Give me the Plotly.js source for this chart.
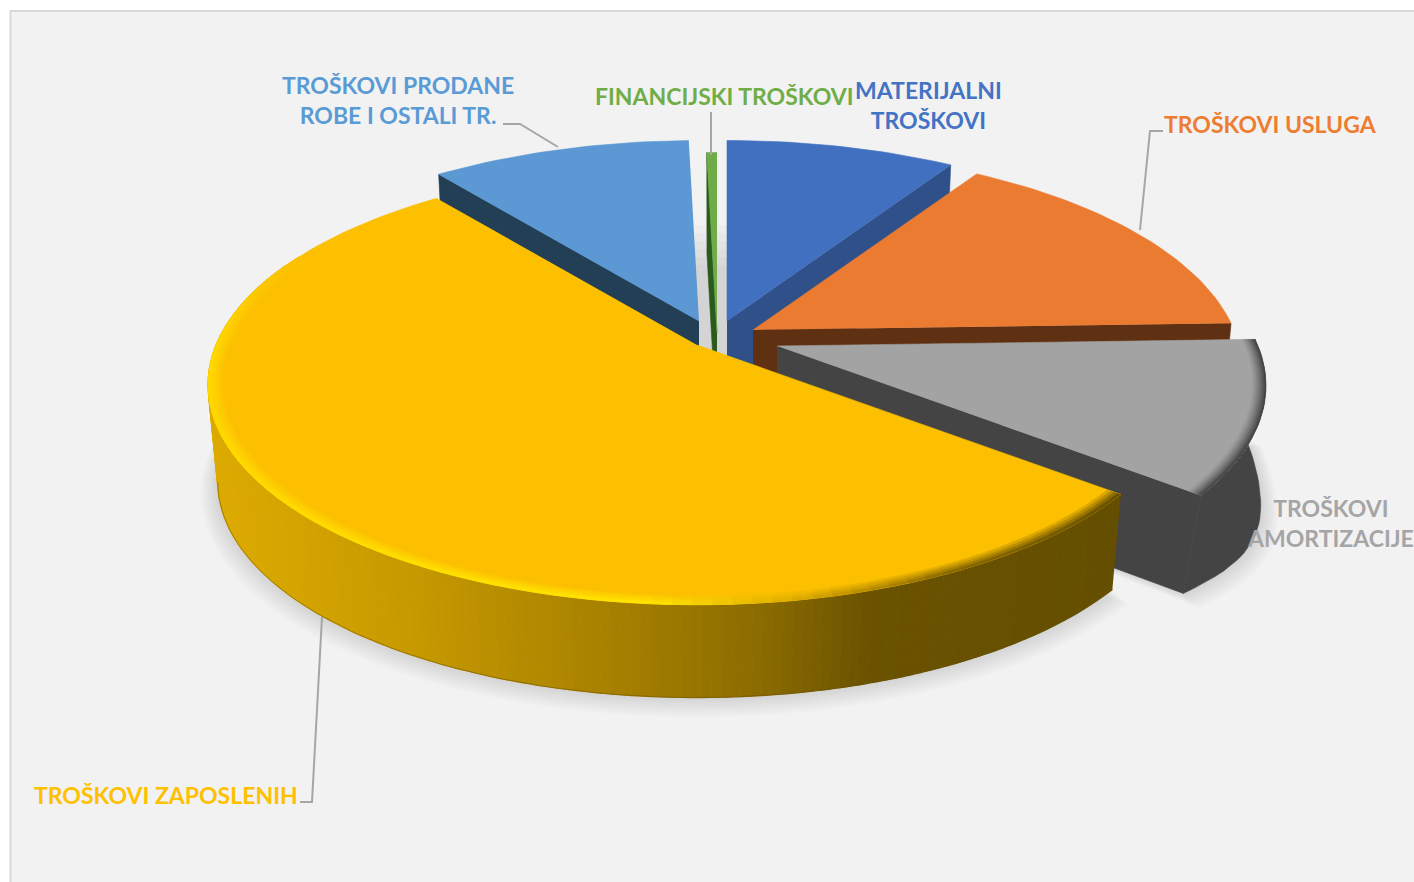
<!DOCTYPE html>
<html>
<head>
<meta charset="utf-8">
<script src="https://cdn.plot.ly/plotly-3.0.1.min.js"></script>
<style>html,body{margin:0;padding:0;background:#fff;overflow:hidden}</style>
</head>
<body>
<div id="chart" style="width:1414px;height:882px"></div>
<script>
// ---- data (share of total costs, %) ----
const categories = ["MATERIJALNI TROŠKOVI","TROŠKOVI USLUGA","TROŠKOVI AMORTIZACIJE","TROŠKOVI ZAPOSLENIH","TROŠKOVI PRODANE ROBE I OSTALI TR.","FINANCIJSKI TROŠKOVI"];
const values = [9.0, 15.5, 11.2, 53.7, 10.2, 0.4];
const labelLines = ["MATERIJALNI<br>TROŠKOVI","TROŠKOVI USLUGA","TROŠKOVI<br>AMORTIZACIJE","TROŠKOVI ZAPOSLENIH","TROŠKOVI PRODANE<br>ROBE I OSTALI TR.","FINANCIJSKI TROŠKOVI"];

// ---- style ----
const topColors  = ["#4170c0","#eb7b30","#a3a3a3","#fcc000","#5b98d4","#6fac47"];
const sideColors = ["#2f5088","#5f3012","#444444","#664e00","#223f56","#2b5a1e"];
const labelColors= ["#4472c4","#ed7d31","#a5a5a5","#ffc000","#5b9bd5","#70ad47"];
const apexX = [727,753,777,697,699,717];
const apexY = [321,330,346,345,321,333];
const labelX = [928,1270,1330,166,398,724];
const labelY = [105,124,523,795,100,96];
const leaders = [
  null,
  [[1163,1150,1140],[131,131,230]],
  null,
  [[300,312,322],[802,802,617]],
  [[503,520,558],[124,124,147]],
  [[711,711],[112,155]]
];
const RX=481, RY=213, K=0.18, H=98, BOT=0.98;

// ---- geometry ----
const traces=[];
let acc=0;
const total=values.reduce((a,b)=>a+b,0);
const a0=[],a1=[];
values.forEach(v=>{a0.push(acc/total*360);acc+=v;a1.push(acc/total*360);});
const Z=3, G=2;  // indices of the yellow and grey slices

function P(i,deg,r,bottom){
  const t=deg*Math.PI/180,X=r*Math.sin(t),Y=r*Math.cos(t),s=1/(1+K*Y);
  let dx=RX*X*s,dy=-RY*Y*s,off=0;
  if(bottom){
    dx*=BOT;dy*=BOT;off=H;
    if(i===G){ // the grey wall bulges outwards in the reference
      const u=(deg-a0[i])/(a1[i]-a0[i]);
      dx+=19*Math.sin(Math.PI*u*u)-9*u; dy+=3*u;
    }
  }
  return [apexX[i]+dx,apexY[i]+dy+off];
}
function poly(pts,color,op,lw){
  traces.push({type:"scatter",mode:"lines",x:pts.map(p=>p[0]),y:pts.map(p=>p[1]),fill:"toself",
    fillcolor:color,line:{color:color,width:op===undefined?(lw===undefined?0.6:lw):0},opacity:op===undefined?1:op,
    hoverinfo:"skip",showlegend:false});
}
function arc(i,d0,d1,r,bottom,n){
  const out=[];n=n||Math.max(4,Math.ceil(Math.abs(d1-d0)/1.5));
  for(let j=0;j<=n;j++)out.push(P(i,d0+(d1-d0)*j/n,r,bottom));
  return out;
}
function parse(c){
  if(c[0]==="#")return [1,3,5].map(k=>parseInt(c.substr(k,2),16));
  return c.match(/\d+/g).map(Number);
}
function mix(a,b,t){const A=parse(a),B=parse(b);return "rgb("+A.map((v,k)=>Math.round(v+(B[k]-v)*t)).join(",")+")";}
function ramp(stops,x){
  if(x<=stops[0][0])return stops[0][1];
  for(let j=1;j<stops.length;j++){
    if(x<=stops[j][0]){
      const t=(x-stops[j-1][0])/(stops[j][0]-stops[j-1][0]);
      return mix(stops[j-1][1],stops[j][1],t);
    }
  }
  return stops[stops.length-1][1];
}

// soft ground shadow
[Z,G].forEach(i=>{
  for(let j=10;j>=1;j--){
    const pts=arc(i,a0[i],a1[i],1+0.0035*j,true).map(p=>[p[0],p[1]+j*0.9]);
    pts.push([apexX[i],apexY[i]+H]);
    poly(pts,"#000000",0.012);
  }
});
// shadow in the gap round the thin slice
for(let j=0;j<6;j++){
  const y0=225+j*8, xl=apexX[4]-4, xr=apexX[0];
  poly([[xl,y0],[xr,y0],[xr,360],[xl,360]],"#000000",0.018);
}

function edgeWall(i,deg){
  const a=[apexX[i],apexY[i]],b=P(i,deg,1,false),c=P(i,deg,1,true),d=[apexX[i],apexY[i]+H];
  poly([a,b,c,d],sideColors[i]);
}
function wedge(i){ return [[apexX[i],apexY[i]]].concat(arc(i,a0[i],a1[i],1,false)); }

const wallStops=[[218,"#dcaa00"],[400,"#c89a00"],[600,"#a88200"],[760,"#8c6c00"],[870,"#6a5200"],[1118,"#644e00"]];
const rimStops=[[208,"#ffd800"],[650,"#ffe400"],[800,"#dcaa00"],[950,"#8a6a00"],[1118,"#6a5200"]];

// painter's order: back to front
[4,5,0,1,2,3].forEach(i=>{
  if(i===4||i===5) edgeWall(i,a0[i]);
  if(i===0||i===1) edgeWall(i,a1[i]);
  if(i===G){
    edgeWall(i,a1[i]);
    poly(arc(i,a0[i],a1[i],1,false).concat(arc(i,a1[i],a0[i],1,true)),sideColors[i]);
  }
  if(i===Z){
    const step=1;
    for(let d=a0[i];d<a0[i]+165;d+=step){
      const e=d+step;
      const x=(P(i,d,1,false)[0]+P(i,e,1,false)[0])/2;
      poly([P(i,d,1,false),P(i,e,1,false),P(i,e,1,true),P(i,d,1,true)],ramp(wallStops,x),undefined,1.2);
    }
    const edge=arc(i,a0[i],a0[i]+131,1,true);
    traces.push({type:"scatter",mode:"lines",x:edge.map(p=>p[0]),y:edge.map(p=>p[1]),
      line:{color:"#6a5200",width:1},opacity:0.5,hoverinfo:"skip",showlegend:false});
  }
  poly(wedge(i),topColors[i]);
  // bevel along the rim
  if(i===G){
    const layers=9;
    for(let j=0;j<layers;j++){
      const r=0.972+0.0032*j;
      const c=mix(topColors[i],sideColors[i],Math.pow((j+1)/layers,1.3));
      poly(arc(i,a0[i],a1[i],r,false).concat(arc(i,a1[i],a0[i],1,false)),c,undefined,0);
    }
  }
  if(i===Z){
    const step=2,layers=4;
    const span=168;
    for(let j=0;j<layers;j++){
      const r=0.972+0.007*j;
      for(let d=a0[i];d<a0[i]+span;d+=step){
        const e=d+step;
        const x=(P(i,d,1,false)[0]+P(i,e,1,false)[0])/2;
        const fade=Math.min(1,(a0[i]+span-d)/30);
        const outer=mix(topColors[i],ramp(rimStops,x),fade);
        poly([P(i,d,r,false),P(i,e,r,false),P(i,e,1,false),P(i,d,1,false)],mix(topColors[i],outer,(j+1)/layers),undefined,0.3);
      }
    }
  }
});

// leader lines
leaders.forEach(l=>{
  if(!l)return;
  traces.push({type:"scatter",mode:"lines",x:l[0],y:l[1],line:{color:"#a6a6a6",width:2},hoverinfo:"skip",showlegend:false});
});

const annotations=categories.map((c,i)=>({
  x:labelX[i],y:labelY[i],xref:"x",yref:"y",text:labelLines[i],showarrow:false,
  xanchor:"center",yanchor:"middle",align:"center",
  font:{family:"Lato, 'Open Sans', sans-serif",size:23,color:labelColors[i],weight:700}
}));

const layout={
  width:1414,height:882,margin:{l:0,r:0,t:0,b:0},
  paper_bgcolor:"#ffffff",plot_bgcolor:"rgba(0,0,0,0)",showlegend:false,
  xaxis:{range:[0,1414],visible:false,fixedrange:true},
  yaxis:{range:[882,0],visible:false,fixedrange:true},
  shapes:[{type:"rect",xref:"x",yref:"y",x0:10.5,y0:11,x1:1430,y1:900,fillcolor:"#f2f2f2",line:{color:"#d9d9d9",width:2},layer:"below"}],
  annotations:annotations
};
Plotly.newPlot("chart",traces,layout,{displayModeBar:false,staticPlot:true});
</script>
</body>
</html>
